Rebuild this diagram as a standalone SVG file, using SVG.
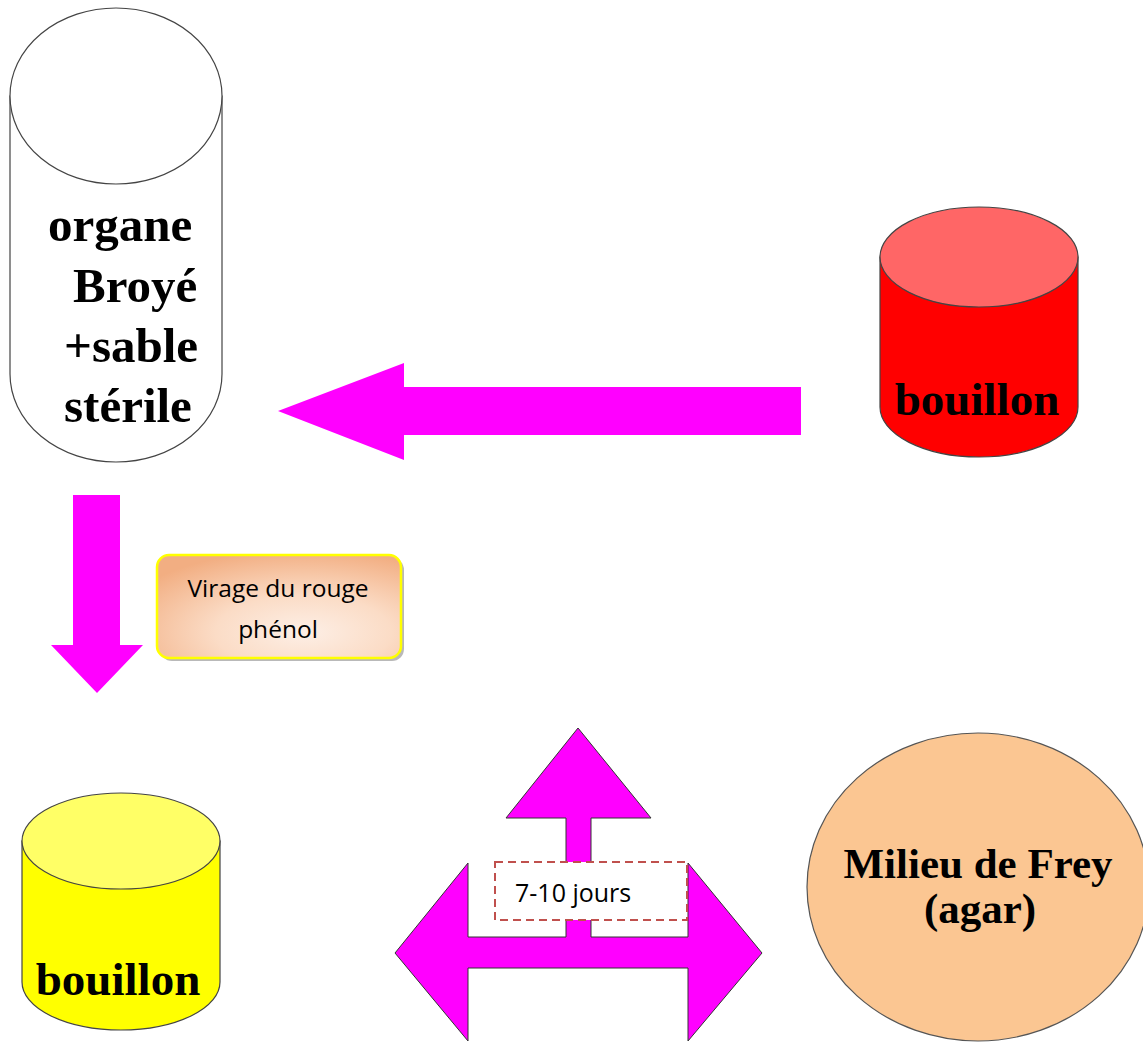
<svg xmlns="http://www.w3.org/2000/svg" width="1143" height="1043" viewBox="0 0 1143 1043">
<defs>
<style>
.serif{font-family:"Liberation Serif","Times New Roman",serif;font-weight:bold;fill:#000}
.sans{font-family:"Open Sans","Liberation Sans",sans-serif;fill:#000}
.cyl{stroke:#444;stroke-width:1.2}
.pink{fill:#FF00FF}
</style>
<radialGradient id="peach" cx="0.6" cy="0.75" r="0.8">
<stop offset="0" stop-color="#FDEFE6"/>
<stop offset="0.45" stop-color="#FBDCC6"/>
<stop offset="1" stop-color="#F2AE82"/>
</radialGradient>
</defs>
<rect width="1143" height="1043" fill="#fff"/>

<g id="connectors">
<polygon class="pink" points="278,411 404,363 404,387 801,387 801,435 404,435 404,460"/>
<polygon class="pink" points="73,495 120,495 120,645 143,645 97,693 51,645 73,645"/>
<polygon class="pink" stroke="#333" stroke-width="1" points="578,728 651,818 591,818 591,937 688,937 688,863 762,953 688,1041 688,968 468,968 468,1041 395,953 468,863 468,937 566,937 566,818 506,818"/>
</g>

<g id="organe">
<path class="cyl" fill="#fff" d="M10,96 L10,374 A106,88 0 0 0 222,374 L222,96 Z"/>
<ellipse class="cyl" fill="#fff" cx="116" cy="96" rx="106" ry="88"/>
<text class="serif" font-size="49" x="48" y="241">organe</text>
<text class="serif" font-size="49" x="73" y="302">Broyé</text>
<text class="serif" font-size="49" x="64" y="362">+sable</text>
<text class="serif" font-size="49" x="64" y="422">stérile</text>
</g>

<g id="bouillon-rouge">
<path class="cyl" fill="#FF0000" d="M880,257 L880,407 A99,50 0 0 0 1078,407 L1078,257 Z"/>
<ellipse class="cyl" fill="#FF6666" cx="979" cy="257" rx="99" ry="50"/>
<text class="serif" font-size="47" x="977" y="415" text-anchor="middle">bouillon</text>
</g>

<g id="virage">
<rect x="160" y="558" width="244" height="103" rx="12" fill="#7f7f7f" opacity="0.55"/>
<rect x="157" y="555" width="244" height="103" rx="12" fill="url(#peach)" stroke="#FFFF00" stroke-width="2.5"/>
<text class="sans" font-size="24.5" x="278" y="597" text-anchor="middle">Virage du rouge</text>
<text class="sans" font-size="24.5" x="278" y="638" text-anchor="middle">phénol</text>
</g>

<g id="bouillon-jaune">
<path class="cyl" fill="#FFFF00" d="M22,841 L22,982 A99,48 0 0 0 220,982 L220,841 Z"/>
<ellipse class="cyl" fill="#FFFF66" cx="121" cy="841" rx="99" ry="48"/>
<text class="serif" font-size="47" x="118" y="995" text-anchor="middle">bouillon</text>
</g>

<g id="jours">
<rect x="495" y="862" width="192" height="58" fill="#fff" stroke="#C0504D" stroke-width="2" stroke-dasharray="8 5"/>
<text class="sans" font-size="25" x="515" y="902">7-10 jours</text>
</g>

<g id="frey">
<ellipse cx="978" cy="887" rx="171" ry="154" fill="#FBC692" stroke="#555" stroke-width="1.2"/>
<text class="serif" font-size="43" x="978" y="878" text-anchor="middle">Milieu de Frey</text>
<text class="serif" font-size="43" x="980" y="923" text-anchor="middle">(agar)</text>
</g>
</svg>
